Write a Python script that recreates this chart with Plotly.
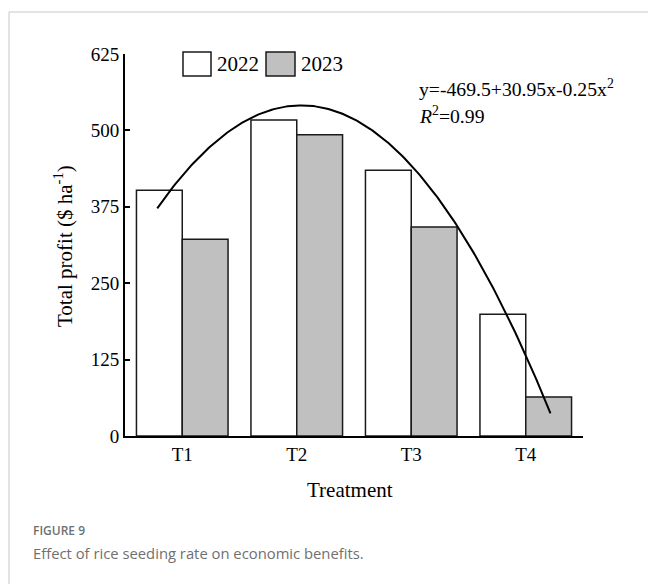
import numpy as np
import plotly.graph_objects as go

# Treatments and total profit for the two seasons ($ ha-1)
treatments = ["T1", "T2", "T3", "T4"]
profit_2022 = [402, 517, 435, 199]
profit_2023 = [322, 493, 342, 64]
y_ticks = [0, 125, 250, 375, 500, 625]

# Quadratic fit of profit against seeding rate: y = b0 + b1*x + b2*x^2
b0, b1, b2 = -469.5, 30.95, -0.25
r_squared = 0.99
fit_x_start, fit_x_end = 35.95, 106.8

W, H = 648, 584
M = dict(l=125, r=65, t=54, b=148)
PW = W - M["l"] - M["r"]
PH = H - M["t"] - M["b"]


def px(x):
    return (x - M["l"]) / PW


def py(y):
    return (H - M["b"] - y) / PH


SERIF = "Liberation Serif, Times New Roman, serif"
SANS = "Open Sans, Noto Sans, sans-serif"
EDGE = "#1a1a1a"
GRAY = "#c0c0c0"

fig = go.Figure()
fig.add_bar(x=treatments, y=profit_2022, name="2022",
            marker=dict(color="white", line=dict(color=EDGE, width=1.5)))
fig.add_bar(x=treatments, y=profit_2023, name="2023",
            marker=dict(color=GRAY, line=dict(color=EDGE, width=1.5)))

xs = np.linspace(fit_x_start, fit_x_end, 200)
ys = b0 + b1 * xs + b2 * xs ** 2
fig.add_scatter(x=xs, y=ys, xaxis="x2", yaxis="y2", mode="lines",
                line=dict(color="black", width=2), showlegend=False,
                hoverinfo="skip")

shapes = [
    # page frame
    dict(type="line", xref="paper", yref="paper", x0=px(9), x1=px(9),
         y0=py(12), y1=py(H + 5), line=dict(color="#c8c8c8", width=1)),
    dict(type="line", xref="paper", yref="paper", x0=px(9), x1=px(W + 5),
         y0=py(12), y1=py(12), line=dict(color="#c8c8c8", width=1)),
    # legend swatches
    dict(type="rect", xref="paper", yref="paper", x0=px(183), x1=px(211),
         y0=py(76), y1=py(52), fillcolor="white", line=dict(color=EDGE, width=1.5)),
    dict(type="rect", xref="paper", yref="paper", x0=px(266), x1=px(295),
         y0=py(76), y1=py(52), fillcolor=GRAY, line=dict(color=EDGE, width=1.5)),
]

annotations = [
    dict(text="2022", x=px(215), y=py(64), xref="paper", yref="paper",
         xanchor="left", yanchor="middle", showarrow=False,
         font=dict(family=SERIF, size=21, color="black")),
    dict(text="2023", x=px(299), y=py(64), xref="paper", yref="paper",
         xanchor="left", yanchor="middle", showarrow=False,
         font=dict(family=SERIF, size=21, color="black")),
    dict(text="y=-469.5+30.95x-0.25x<sup>2</sup>", x=px(417), y=py(88),
         xref="paper", yref="paper", xanchor="left", yanchor="middle",
         showarrow=False, font=dict(family=SERIF, size=19.7, color="black")),
    dict(text="<i>R</i><sup>2</sup>=%.2f" % r_squared, x=px(417), y=py(115),
         xref="paper", yref="paper", xanchor="left", yanchor="middle",
         showarrow=False, font=dict(family=SERIF, size=19.7, color="black")),
    dict(text="Total profit ($ ha<sup>-1</sup>)", x=px(63), y=py(246),
         xref="paper", yref="paper", xanchor="center", yanchor="middle",
         textangle=-90, showarrow=False,
         font=dict(family=SERIF, size=21, color="black")),
    dict(text="Treatment", x=px(350), y=py(490), xref="paper", yref="paper",
         xanchor="center", yanchor="middle", showarrow=False,
         font=dict(family=SERIF, size=21, color="black")),
    dict(text="FIGURE 9", x=px(31), y=py(530), xref="paper", yref="paper",
         xanchor="left", yanchor="middle", showarrow=False,
         font=dict(family=SANS, size=12, color="#707070", weight=600)),
    dict(text="Effect of rice seeding rate on economic benefits.", x=px(31),
         y=py(553), xref="paper", yref="paper", xanchor="left",
         yanchor="middle", showarrow=False,
         font=dict(family=SANS, size=14.8, color="#707070")),
]

fig.update_layout(
    width=W, height=H, margin=M,
    paper_bgcolor="white", plot_bgcolor="white",
    barmode="group", bargap=0.2, bargroupgap=0,
    showlegend=False,
    shapes=shapes, annotations=annotations,
    xaxis=dict(range=[-0.5, 3.5], showline=True, linecolor="black",
               linewidth=2, ticks="", showgrid=False, zeroline=False,
               tickfont=dict(family=SERIF, size=19, color="black")),
    yaxis=dict(range=[0, 625], tickvals=y_ticks, showline=True,
               linecolor="black", linewidth=2, ticks="inside", ticklen=5,
               tickwidth=1.5, tickcolor="black", showgrid=False,
               zeroline=False,
               tickfont=dict(family=SERIF, size=19, color="black")),
    xaxis2=dict(overlaying="x", anchor="y2", range=[30.14, 112.66],
                visible=False),
    yaxis2=dict(overlaying="y", anchor="x2", range=[-52.5, 572.5],
                visible=False),
)

fig.write_html("out.html")
